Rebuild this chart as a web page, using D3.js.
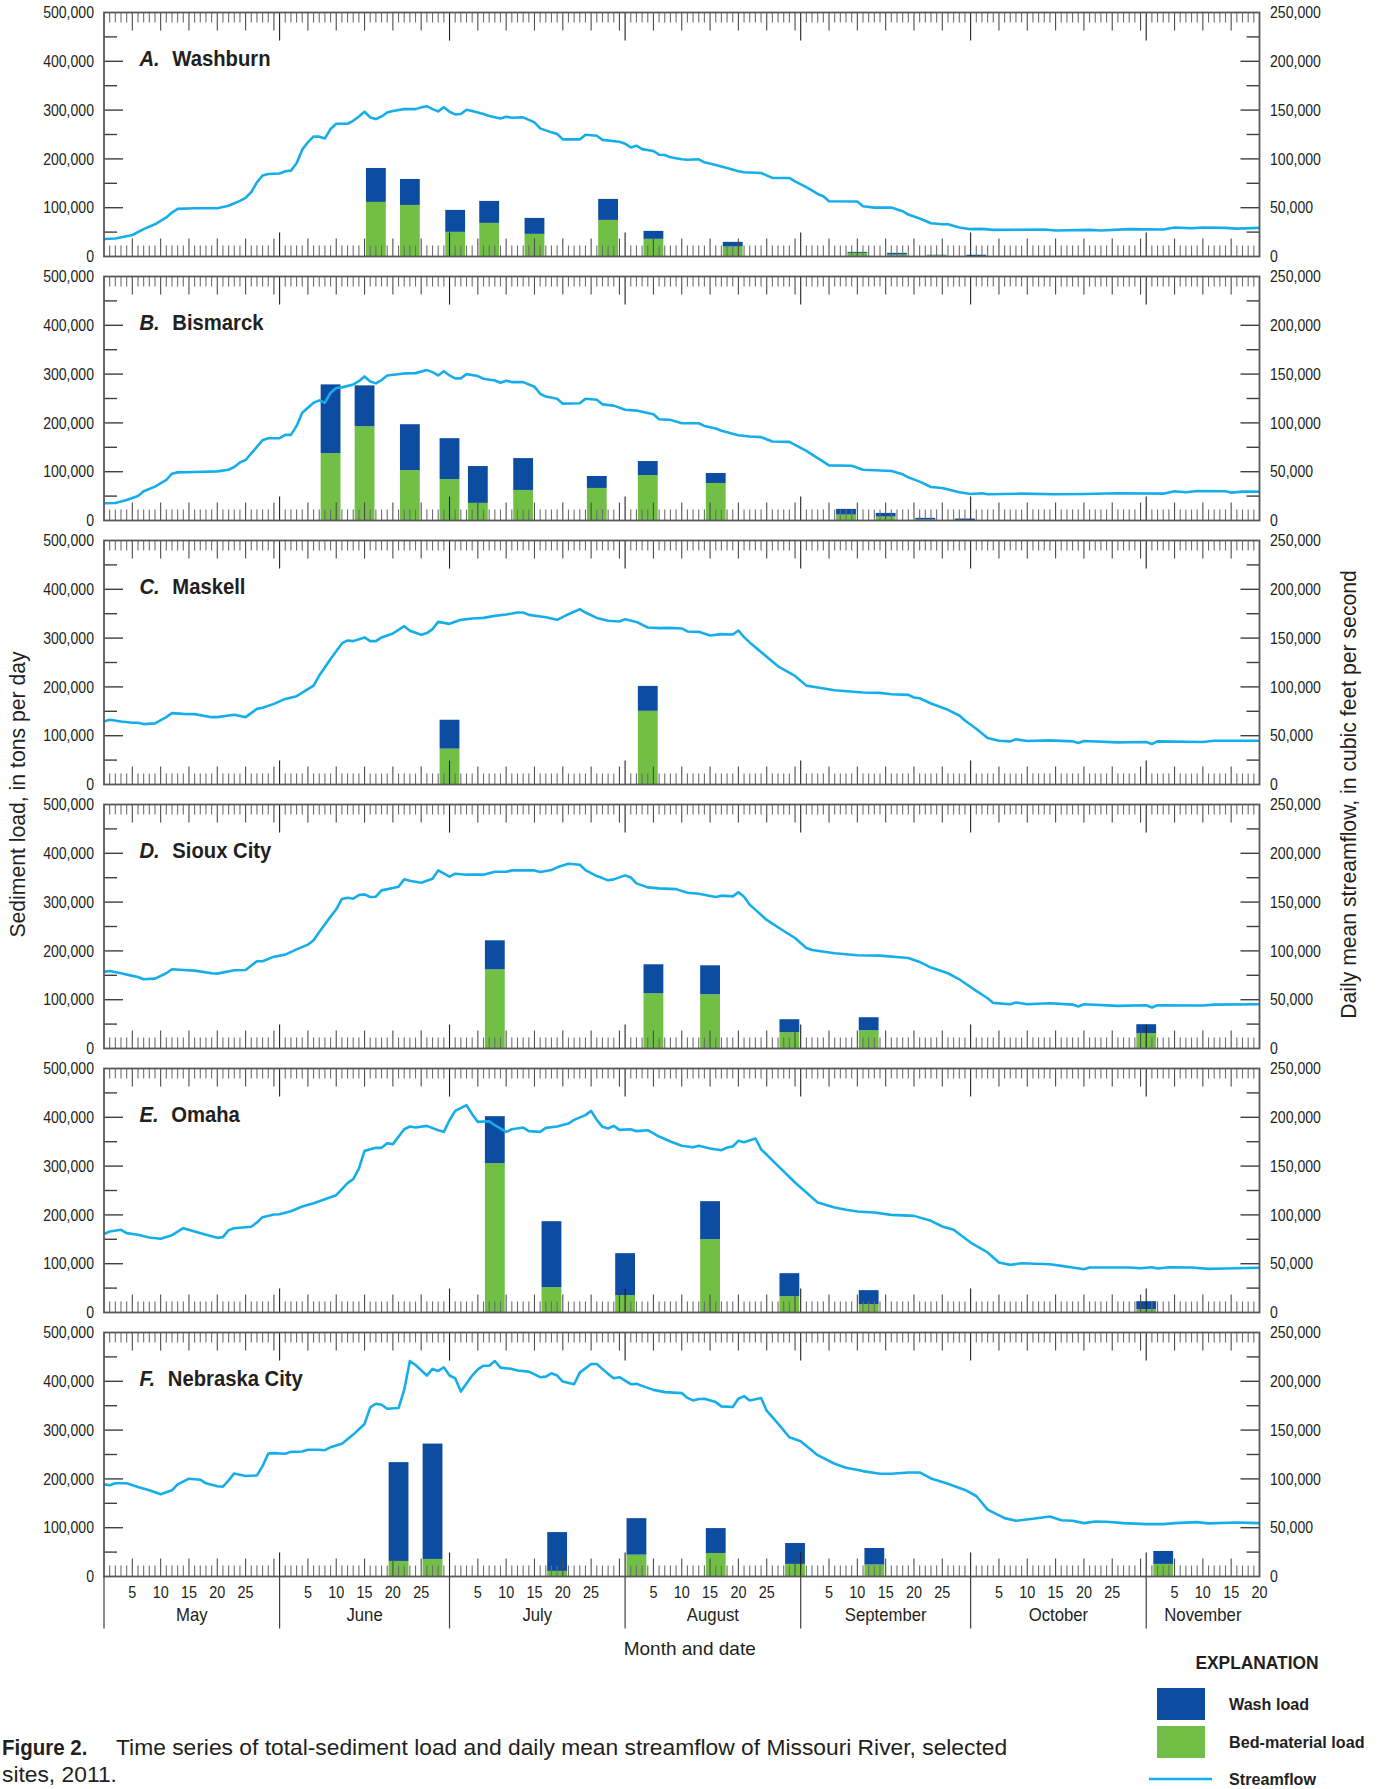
<!DOCTYPE html>
<html>
<head>
<meta charset="utf-8">
<script src="https://cdn.jsdelivr.net/npm/d3@7"></script>
<style>
body { margin: 0; background: #fff; }
svg text { font-family: "Liberation Sans", Arial, sans-serif; fill: #231f20; }
</style>
</head>
<body>
<svg id="chart" width="1377" height="1789"></svg>
<script>
// ---- data (streamflow in ft3/s, loads in tons/day) ----
const siteLetters = ["A.", "B.", "C.", "D.", "E.", "F."]
const siteNames = ["Washburn", "Bismarck", "Maskell", "Sioux City", "Omaha", "Nebraska City"]
const monthNames = ["May", "June", "July", "August", "September", "October", "November"]
const dayLabels = [5, 10, 15, 20, 25]
const loadTicks = [0, 100000, 200000, 300000, 400000, 500000]
const flowTicks = [0, 50000, 100000, 150000, 200000, 250000]

const flowA = [["04-30",18000],["05-02",18400],["05-05",22000],["05-07",28000],["05-09",33000],["05-11",40000],["05-12",45000],["05-13",48800],["05-16",49400],["05-20",49400],["05-22",52000],["05-24",57000],["05-25",60000],["05-26",66000],["05-27",76000],["05-28",83000],["05-29",84600],["05-31",85000],["06-01",87300],["06-02",88000],["06-03",95500],["06-04",109500],["06-05",117000],["06-06",123000],["06-07",122800],["06-08",121000],["06-09",130600],["06-10",136000],["06-12",136000],["06-13",139000],["06-14",143500],["06-15",148300],["06-16",142500],["06-17",140800],["06-18",143500],["06-19",147600],["06-20",149000],["06-22",151000],["06-24",151000],["06-25",152800],["06-26",154000],["06-27",151000],["06-28",148700],["06-29",153000],["06-30",148300],["07-01",145600],["07-02",146000],["07-03",150400],["07-04",149000],["07-06",146000],["07-07",144000],["07-09",141500],["07-10",143200],["07-11",142200],["07-13",142500],["07-15",137400],["07-16",131300],["07-18",127200],["07-19",125500],["07-20",120000],["07-23",120000],["07-24",124800],["07-26",123800],["07-27",119500],["07-30",117600],["07-31",115600],["08-01",111800],["08-02",113500],["08-03",110000],["08-05",108100],["08-06",104300],["08-07",104000],["08-08",101600],["08-10",99600],["08-11",99200],["08-13",99600],["08-14",96500],["08-16",93800],["08-18",90700],["08-20",87300],["08-21",86300],["08-24",85600],["08-26",80500],["08-29",80500],["08-30",77000],["09-01",71000],["09-03",64100],["09-04",61700],["09-05",56600],["09-10",56300],["09-11",51500],["09-13",50100],["09-16",50100],["09-18",46400],["09-19",43000],["09-21",39000],["09-23",34100],["09-25",33100],["09-26",33100],["09-28",29700],["09-30",28000],["10-02",28300],["10-04",27300],["10-13",27600],["10-15",26600],["10-21",27300],["10-23",26600],["10-28",28000],["11-03",27600],["11-05",29700],["11-08",29000],["11-10",29700],["11-14",29300],["11-16",28600],["11-20",29300]]
const datesA = ["06-17","06-23","07-01","07-07","07-15","07-28","08-05","08-19","09-10","09-17","09-24","10-01"]
const bedA = [111900,105700,50500,68900,46400,75000,36200,20500,7500,4100,3000,0]
const washA = [69500,53200,45000,45000,32700,43000,16300,9500,2000,3400,500,3500]

const flowB = [["04-30",17700],["05-02",18000],["05-04",21100],["05-06",25200],["05-07",29900],["05-09",34700],["05-11",41500],["05-12",48000],["05-13",49300],["05-16",49700],["05-20",50300],["05-22",52000],["05-23",54800],["05-24",59500],["05-25",62000],["05-26",68700],["05-28",82300],["05-29",84300],["05-31",84300],["06-01",87700],["06-02",87700],["06-03",96900],["06-04",110500],["06-06",120700],["06-07",123100],["06-08",120700],["06-09",130900],["06-10",135700],["06-11",136400],["06-13",139400],["06-14",142800],["06-15",147600],["06-16",142500],["06-17",140500],["06-18",143900],["06-19",148600],["06-22",150700],["06-24",151000],["06-26",154100],["06-27",152000],["06-28",148600],["06-29",153000],["06-30",148600],["07-01",145600],["07-02",145600],["07-03",150000],["07-05",148000],["07-06",145200],["07-08",143500],["07-09",141100],["07-10",143200],["07-11",141800],["07-13",141800],["07-15",137100],["07-16",129900],["07-17",127000],["07-19",124800],["07-20",119700],["07-23",120100],["07-24",124800],["07-26",123800],["07-27",119000],["07-29",117700],["07-31",113500],["08-02",112600],["08-05",108800],["08-06",103700],["08-08",103100],["08-10",99600],["08-13",99600],["08-14",96900],["08-16",94200],["08-17",92000],["08-20",87400],["08-22",86000],["08-24",85400],["08-26",80900],["08-29",80600],["09-01",71400],["09-03",63900],["09-05",56500],["09-09",56100],["09-11",52000],["09-16",50700],["09-18",47300],["09-19",44200],["09-21",39800],["09-23",34300],["09-25",33300],["09-28",28900],["09-30",27200],["10-02",27900],["10-03",26900],["10-09",27500],["10-15",26900],["10-20",27200],["10-26",27900],["11-03",27500],["11-05",29900],["11-07",28900],["11-09",30300],["11-14",29900],["11-15",28600],["11-17",29600],["11-20",29600]]
const datesB = ["06-09","06-15","06-23","06-30","07-05","07-13","07-26","08-04","08-16","09-08","09-15","09-22","09-29"]
const bedB = [138100,193200,103400,85000,36100,62600,66700,93200,76900,12200,8200,2000,1000]
const washB = [140800,83700,93900,83700,75500,65300,24500,28600,20400,11600,7400,3400,3000]

const flowC = [["04-30",64600],["05-01",66300],["05-03",64600],["05-05",63300],["05-06",63300],["05-07",61900],["05-09",62600],["05-11",69000],["05-12",73100],["05-14",72400],["05-16",72100],["05-19",69000],["05-20",69000],["05-23",71400],["05-25",69000],["05-27",77500],["05-28",78600],["05-30",82600],["06-01",87700],["06-03",90500],["06-06",101300],["06-07",111600],["06-09",128600],["06-11",144500],["06-12",147600],["06-13",146900],["06-15",150700],["06-16",146900],["06-17",146900],["06-18",150700],["06-20",154700],["06-22",162200],["06-23",157500],["06-25",153400],["06-26",155100],["06-27",159200],["06-28",166600],["06-30",164600],["07-02",168700],["07-04",170100],["07-06",170700],["07-08",172800],["07-10",174100],["07-12",176200],["07-13",176200],["07-14",173800],["07-17",171400],["07-19",168700],["07-21",174500],["07-23",179600],["07-24",176200],["07-26",170700],["07-28",167700],["07-30",167000],["07-31",169400],["08-02",166600],["08-04",160900],["08-06",160200],["08-08",160500],["08-10",159900],["08-11",156800],["08-13",156400],["08-15",152700],["08-17",154100],["08-19",153700],["08-20",157800],["08-21",151000],["08-22",145600],["08-25",130900],["08-27",121100],["08-30",111200],["09-01",101300],["09-03",99300],["09-06",96600],["09-11",94200],["09-14",93900],["09-16",92500],["09-19",91800],["09-20",89100],["09-21",88400],["09-23",83000],["09-26",76500],["09-28",70700],["09-29",65600],["10-01",57100],["10-03",47600],["10-05",44900],["10-07",44200],["10-08",46300],["10-10",44600],["10-14",45200],["10-18",44200],["10-19",42500],["10-20",44600],["10-26",43200],["10-31",43500],["11-01",41500],["11-02",44200],["11-10",43500],["11-12",44900],["11-20",44900]]
const datesC = ["06-30","08-04"]
const bedC = [73500,151000]
const washC = [59200,51000]

const flowD = [["04-30",78500],["05-01",79500],["05-03",77100],["05-05",74400],["05-06",73300],["05-07",70900],["05-09",71600],["05-11",77100],["05-12",81200],["05-14",80500],["05-16",79800],["05-19",77100],["05-20",76700],["05-23",80200],["05-25",80500],["05-27",89400],["05-28",89400],["05-30",94100],["06-01",96200],["06-03",101600],["06-05",106400],["06-06",110900],["06-07",119400],["06-09",135100],["06-10",142600],["06-11",153200],["06-12",154500],["06-13",153500],["06-14",157200],["06-15",157900],["06-16",155200],["06-17",155500],["06-18",162000],["06-20",164400],["06-21",165800],["06-22",173300],["06-23",171900],["06-25",169900],["06-27",174000],["06-28",182500],["06-30",176000],["07-01",179100],["07-03",178100],["07-06",178100],["07-08",181100],["07-10",181100],["07-11",182500],["07-15",182500],["07-16",180800],["07-18",182800],["07-19",185600],["07-21",189300],["07-23",188300],["07-24",182800],["07-26",176700],["07-27",174600],["07-28",172300],["07-29",173300],["07-31",177400],["08-01",175300],["08-02",169200],["08-04",165100],["08-06",164100],["08-09",163300],["08-11",159600],["08-13",158500],["08-16",155200],["08-17",156600],["08-19",155900],["08-20",160000],["08-21",155500],["08-22",147400],["08-25",131700],["08-28",120400],["08-30",113200],["09-01",103000],["09-02",101000],["09-06",97600],["09-10",95500],["09-14",95200],["09-19",92800],["09-21",88700],["09-23",82900],["09-26",77100],["09-28",70900],["09-29",66900],["10-01",59000],["10-03",51500],["10-04",46700],["10-07",45400],["10-08",47100],["10-10",45400],["10-14",46400],["10-18",45000],["10-19",43000],["10-20",45400],["10-26",43700],["10-31",44300],["11-01",42000],["11-02",44300],["11-10",44000],["11-12",45000],["11-20",45400]]
const datesD = ["07-08","08-05","08-15","08-29","09-12","10-31"]
const bedD = [162300,113200,111200,33400,37500,31400]
const washD = [59400,59400,59300,26600,26600,18400]

const flowE = [["04-30",80300],["05-01",83000],["05-03",84700],["05-04",81300],["05-06",79600],["05-08",76800],["05-10",75500],["05-12",79200],["05-14",86400],["05-16",83000],["05-18",79600],["05-20",76500],["05-21",77200],["05-22",84400],["05-23",86400],["05-26",87800],["05-27",92200],["05-28",97700],["05-30",100400],["05-31",100700],["06-02",103800],["06-04",108600],["06-06",112000],["06-08",116100],["06-10",120200],["06-12",132500],["06-13",136600],["06-14",147500],["06-15",165600],["06-17",168700],["06-18",168700],["06-19",173500],["06-20",172500],["06-22",187800],["06-23",190600],["06-24",189500],["06-26",191200],["06-28",186800],["06-29",185100],["06-30",197000],["07-01",206600],["07-03",212400],["07-04",203200],["07-05",195300],["07-07",196000],["07-08",191900],["07-10",185100],["07-11",187800],["07-13",189500],["07-14",185800],["07-16",185100],["07-17",189200],["07-19",190600],["07-21",193600],["07-22",197400],["07-24",202200],["07-25",206600],["07-26",197400],["07-27",190200],["07-28",188500],["07-29",191200],["07-30",187100],["08-01",187800],["08-02",185800],["08-04",186800],["08-06",180300],["08-08",175200],["08-10",170800],["08-12",169300],["08-13",170800],["08-15",168000],["08-17",166300],["08-18",169000],["08-19",170100],["08-20",175900],["08-21",174500],["08-23",178300],["08-24",167300],["08-27",150300],["08-30",133200],["09-01",122900],["09-03",112700],["09-06",107600],["09-08",105200],["09-10",103500],["09-13",102500],["09-16",100000],["09-20",99000],["09-23",93900],["09-25",88100],["09-27",84700],["09-30",71700],["10-03",61500],["10-05",51200],["10-07",48800],["10-09",50500],["10-14",49500],["10-16",47800],["10-18",46100],["10-20",44400],["10-21",46100],["10-28",46100],["10-30",45400],["11-01",46400],["11-02",45100],["11-04",46400],["11-08",46100],["11-11",44700],["11-14",45100],["11-20",45800]]
const datesE = ["07-08","07-18","07-31","08-15","08-29","09-12","10-31"]
const bedE = [306000,51900,35500,150300,33500,17100,6800]
const washE = [96300,135200,86100,77800,47100,28700,16400]

const flowF = [["04-30",94400],["05-01",93400],["05-02",95500],["05-04",95500],["05-06",91700],["05-08",88300],["05-10",84200],["05-12",88300],["05-13",94400],["05-15",100200],["05-17",99200],["05-18",95500],["05-20",92400],["05-21",92100],["05-22",98500],["05-23",105600],["05-25",102900],["05-27",103600],["05-28",113100],["05-29",126000],["05-30",126400],["06-01",125700],["06-02",127700],["06-04",128100],["06-05",129800],["06-07",129800],["06-08",129400],["06-09",132500],["06-11",135900],["06-13",145400],["06-15",156300],["06-16",173200],["06-17",177000],["06-18",176000],["06-19",171900],["06-21",172600],["06-22",191200],["06-23",220800],["06-24",216700],["06-26",205900],["06-27",212700],["06-28",210600],["06-29",214400],["06-30",205900],["07-01",203100],["07-02",189500],["07-04",205900],["07-05",212300],["07-06",216000],["07-07",216000],["07-08",220800],["07-09",214000],["07-11",212700],["07-12",211000],["07-14",209900],["07-16",204200],["07-17",204800],["07-18",208200],["07-19",205900],["07-20",199700],["07-22",197000],["07-23",208900],["07-25",217700],["07-26",217700],["07-28",207600],["07-29",203100],["07-30",204200],["08-01",197000],["08-02",197400],["08-03",195300],["08-05",191200],["08-07",188900],["08-10",187900],["08-11",183000],["08-12",180400],["08-13",181800],["08-14",182100],["08-16",178700],["08-17",174300],["08-19",173600],["08-20",182100],["08-21",184800],["08-22",180400],["08-24",182800],["08-25",169900],["08-27",156600],["08-29",142700],["08-31",138600],["09-03",124300],["09-06",115500],["09-08",111400],["09-11",108000],["09-14",105300],["09-16",105300],["09-19",106600],["09-21",106600],["09-23",100500],["09-26",95100],["09-29",88700],["10-01",82500],["10-03",68600],["10-06",59800],["10-08",57100],["10-11",59100],["10-14",61500],["10-16",57700],["10-18",57100],["10-20",54700],["10-22",56400],["10-24",56100],["10-27",54700],["10-31",53700],["11-03",53700],["11-05",54700],["11-09",55700],["11-11",54400],["11-16",55400],["11-20",54700]]
const datesF = ["06-21","06-27","07-19","08-02","08-16","08-30","09-13","11-03"]
const bedF = [31900,36000,11500,44800,48200,25800,24500,25800]
const washF = [202500,236400,79500,74800,51000,42800,33900,26500]

const flows = [flowA, flowB, flowC, flowD, flowE, flowF]
const sampleDates = [datesA, datesB, datesC, datesD, datesE, datesF]
const beds = [bedA, bedB, bedC, bedD, bedE, bedF]
const washes = [washA, washB, washC, washD, washE, washF]

// ---- layout ----
const colors = { wash: "#0d4da1", bed: "#71bf45", flow: "#16aeea" }
const left = 104, right = 1259.5
const panelTop = 12.5, pitch = 264, panelH = 244
const axisGray = "#58595b"

const parse = d3.timeParse("%Y-%m-%d")
const day = s => parse("2011-" + s)
const fmt = d3.format(",")

// squeeze a text horizontally (the original uses a condensed face)
function squeeze(sel, f) {
    sel.each(function () {
        const t = d3.select(this)
        const x0 = +t.attr("x") || 0, y0 = +t.attr("y") || 0
        const tr = t.attr("transform") || ""
        t.attr("x", null).attr("y", null)
            .attr("transform", tr + " translate(" + x0 + "," + y0 + ") scale(" + f + ",1)")
    })
}

const x = d3.scaleTime()
    .domain([day("04-30"), day("11-20")])
    .range([left, right])

const barW = x(d3.timeHour.offset(day("05-01"), 84)) - x(day("05-01"))

const allDays = d3.timeDay.range(day("05-01"), day("11-20"))
const tickKind = function (d) {
    if (d3.timeDay.offset(d, 1).getDate() === 1) return "month"
    if (d.getDate() % 5 === 0) return "five"
    return "day"
}
const topLen = { day: 10, five: 18, month: 28 }
const botLen = { day: 11, five: 18, month: 24 }
const tickCol = { day: "#6d6e71", five: "#4d4d4f", month: "#231f20" }

const svg = d3.select("#chart")

siteNames.forEach(function (name, i) {
    const top = panelTop + i * pitch
    const bottom = top + panelH
    const yLoad = d3.scaleLinear().domain([0, 500000]).range([bottom, top])
    const yFlow = d3.scaleLinear().domain([0, 250000]).range([bottom, top])
    const g = svg.append("g").attr("class", "panel")

    // stacked bars
    const rows = sampleDates[i].map(function (d, k) {
        return { date: day(d), bed: beds[i][k], wash: washes[i][k] }
    })
    const stacked = d3.stack().keys(["bed", "wash"])(rows)
    g.selectAll("g.layer")
        .data(stacked)
        .join("g")
        .attr("class", "layer")
        .attr("fill", d => colors[d.key])
        .selectAll("rect")
        .data(d => d)
        .join("rect")
        .attr("x", d => x(d.data.date) - barW / 2)
        .attr("width", barW)
        .attr("y", d => yLoad(d[1]))
        .attr("height", d => Math.max(0, yLoad(d[0]) - yLoad(d[1])))

    // streamflow line
    const line = d3.line()
        .x(d => x(day(d[0])))
        .y(d => yFlow(d[1]))
    g.append("path")
        .datum(flows[i])
        .attr("d", line)
        .attr("fill", "none")
        .attr("stroke", colors.flow)
        .attr("stroke-width", 2.6)
        .attr("stroke-linejoin", "round")

    // date ticks, top and bottom
    g.selectAll("line.ttick")
        .data(allDays)
        .join("line")
        .attr("class", "ttick")
        .attr("x1", d => x(d)).attr("x2", d => x(d))
        .attr("y1", top).attr("y2", d => top + topLen[tickKind(d)])
        .attr("stroke", d => tickCol[tickKind(d)])
        .attr("stroke-width", 1.1)
    g.selectAll("line.btick")
        .data(allDays)
        .join("line")
        .attr("class", "btick")
        .attr("x1", d => x(d)).attr("x2", d => x(d))
        .attr("y1", bottom).attr("y2", d => bottom - botLen[tickKind(d)])
        .attr("stroke", d => tickCol[tickKind(d)])
        .attr("stroke-width", 1.1)

    // value ticks pointing inward
    g.selectAll("line.ltick")
        .data(d3.range(50000, 500000, 50000))
        .join("line")
        .attr("class", "ltick")
        .attr("x1", left).attr("x2", d => left + (d % 100000 === 0 ? 19 : 13))
        .attr("y1", d => yLoad(d)).attr("y2", d => yLoad(d))
        .attr("stroke", "#414042").attr("stroke-width", 1.4)
    g.selectAll("line.rtick")
        .data(d3.range(25000, 250000, 25000))
        .join("line")
        .attr("class", "rtick")
        .attr("x1", right).attr("x2", d => right - (d % 50000 === 0 ? 19 : 13))
        .attr("y1", d => yFlow(d)).attr("y2", d => yFlow(d))
        .attr("stroke", "#414042").attr("stroke-width", 1.4)

    // frame
    g.append("rect")
        .attr("x", left).attr("y", top)
        .attr("width", right - left).attr("height", panelH)
        .attr("fill", "none")
        .attr("stroke", axisGray)
        .attr("stroke-width", 1.8)

    // tick labels
    g.selectAll("text.ll")
        .data(loadTicks)
        .join("text")
        .attr("class", "ll")
        .attr("x", 94)
        .attr("y", d => yLoad(d))
        .attr("dy", "0.36em")
        .attr("text-anchor", "end")
        .style("font-size", "16px")
        .text(d => fmt(d))
        .call(squeeze, 0.88)
    g.selectAll("text.rl")
        .data(flowTicks)
        .join("text")
        .attr("class", "rl")
        .attr("x", 1270)
        .attr("y", d => yFlow(d))
        .attr("dy", "0.36em")
        .attr("text-anchor", "start")
        .style("font-size", "16px")
        .text(d => fmt(d))
        .call(squeeze, 0.88)

    // panel title
    const title = g.append("text")
        .attr("x", 139.5)
        .attr("y", top + 53.5)
        .style("font-size", "22.5px")
        .style("font-weight", "bold")
    title.append("tspan").style("font-style", "italic").text(siteLetters[i])
    title.append("tspan").attr("dx", 14).text(name)
    title.call(squeeze, 0.9)
})

// ---- bottom date axis ----
const lastBottom = panelTop + 5 * pitch + panelH
const monthEnds = allDays.filter(d => tickKind(d) === "month")
const spanStarts = [day("04-30")].concat(monthEnds)
const spanEnds = monthEnds.concat([day("11-20")])

svg.selectAll("line.mdiv")
    .data(spanStarts)
    .join("line")
    .attr("class", "mdiv")
    .attr("x1", d => x(d)).attr("x2", d => x(d))
    .attr("y1", lastBottom).attr("y2", lastBottom + 52)
    .attr("stroke", "#414042").attr("stroke-width", 1.2)

const dayTickDates = []
monthNames.forEach(function (m, k) {
    dayLabels.forEach(function (dd) {
        const dt = new Date(2011, 4 + k, dd)
        if (dt <= day("11-20")) dayTickDates.push(dt)
    })
})
svg.selectAll("text.dlab")
    .data(dayTickDates)
    .join("text")
    .attr("class", "dlab")
    .attr("x", d => x(d))
    .attr("y", lastBottom + 21)
    .attr("text-anchor", "middle")
    .style("font-size", "16px")
    .text(d => d.getDate())
    .call(squeeze, 0.9)

svg.selectAll("text.mlab")
    .data(monthNames)
    .join("text")
    .attr("class", "mlab")
    .attr("x", (d, k) => (x(spanStarts[k]) + x(spanEnds[k])) / 2)
    .attr("y", lastBottom + 44)
    .attr("text-anchor", "middle")
    .style("font-size", "18px")
    .text(d => d)
    .call(squeeze, 0.93)

svg.append("text")
    .attr("x", (left + right) / 2 + 8)
    .attr("y", lastBottom + 78)
    .attr("text-anchor", "middle")
    .style("font-size", "19px")
    .text("Month and date")

// ---- axis titles ----
const midY = panelTop + (5 * pitch + panelH) / 2
svg.append("text")
    .attr("transform", "translate(25," + midY + ") rotate(-90)")
    .attr("text-anchor", "middle")
    .style("font-size", "21.2px")
    .text("Sediment load, in tons per day")
svg.append("text")
    .attr("transform", "translate(1356," + midY + ") rotate(-90)")
    .attr("text-anchor", "middle")
    .style("font-size", "21.2px")
    .text("Daily mean streamflow, in cubic feet per second")

// ---- explanation ----
const legend = svg.append("g")
legend.append("text")
    .attr("x", 1257).attr("y", 1669)
    .attr("text-anchor", "middle")
    .style("font-size", "18.5px").style("font-weight", "bold")
    .text("EXPLANATION")
    .call(squeeze, 0.94)
const legendItems = [
    { label: "Wash load", key: "wash", y: 1688 },
    { label: "Bed-material load", key: "bed", y: 1726 }
]
legendItems.forEach(function (it) {
    legend.append("rect")
        .attr("x", 1157).attr("y", it.y)
        .attr("width", 48).attr("height", 32)
        .attr("fill", colors[it.key])
    legend.append("text")
        .attr("x", 1229).attr("y", it.y + 22)
        .style("font-size", "17px").style("font-weight", "bold")
        .text(it.label)
        .call(squeeze, 0.95)
})
legend.append("line")
    .attr("x1", 1149).attr("x2", 1212)
    .attr("y1", 1779).attr("y2", 1779)
    .attr("stroke", colors.flow).attr("stroke-width", 2.6)
legend.append("text")
    .attr("x", 1229).attr("y", 1785)
    .style("font-size", "17px").style("font-weight", "bold")
    .text("Streamflow")
    .call(squeeze, 0.95)

// ---- caption ----
svg.append("text")
    .attr("x", 2).attr("y", 1755)
    .style("font-size", "22.8px").style("font-weight", "bold")
    .text("Figure 2.")
    .call(squeeze, 0.9)
svg.append("text")
    .attr("x", 116).attr("y", 1755)
    .style("font-size", "22.8px")
    .text("Time series of total-sediment load and daily mean streamflow of Missouri River, selected")
svg.append("text")
    .attr("x", 2).attr("y", 1782)
    .style("font-size", "22.8px")
    .text("sites, 2011.")
</script>
</body>
</html>
